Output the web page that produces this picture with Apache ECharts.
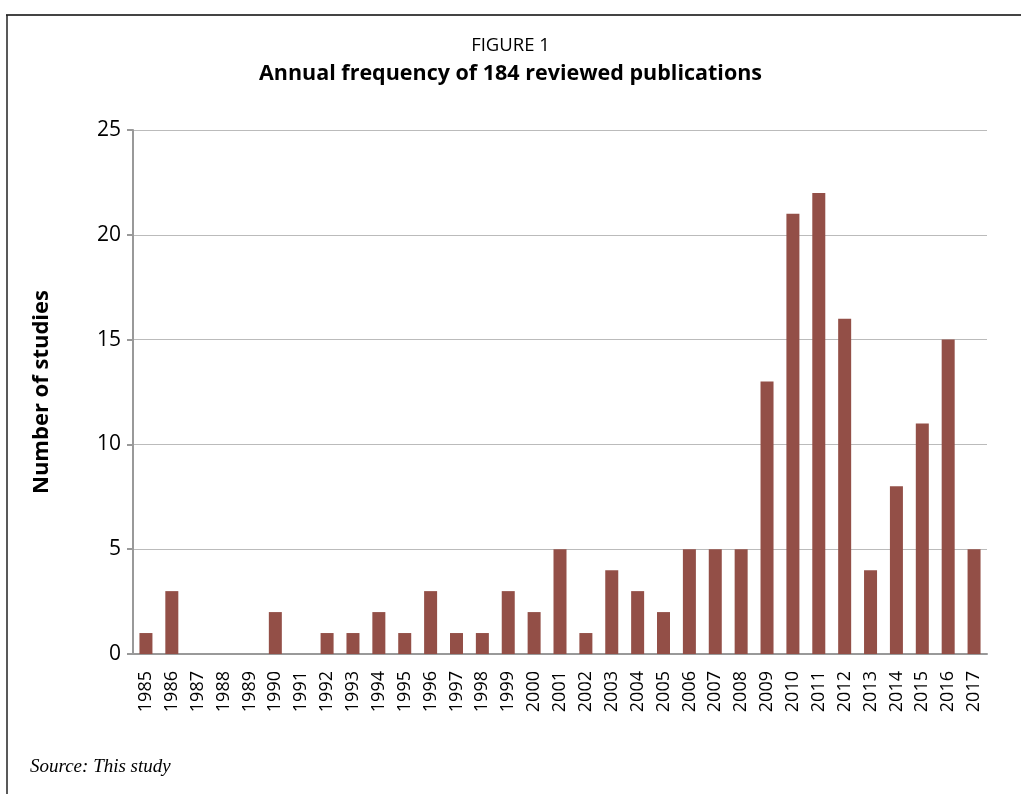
<!DOCTYPE html>
<html><head><meta charset="utf-8">
<script src="https://cdn.jsdelivr.net/npm/echarts@6/dist/echarts.min.js"></script>
<style>html,body{margin:0;padding:0;background:#fff}#c{width:1021px;height:794px}</style>
</head><body><div id="c"></div>
<script>
const years = ['1985','1986','1987','1988','1989','1990','1991','1992','1993','1994','1995','1996','1997','1998','1999','2000','2001','2002','2003','2004','2005','2006','2007','2008','2009','2010','2011','2012','2013','2014','2015','2016','2017'];
const studies = [1,3,0,0,0,2,0,1,1,2,1,3,1,1,3,2,5,1,4,3,2,5,5,5,13,21,22,16,4,8,11,15,5];
const yTicks = {min:0,max:25,interval:5};
const chart = echarts.init(document.getElementById('c'));
chart.setOption({
  animation:false,
  graphic:[
    {type:'line',shape:{x1:6,y1:15,x2:1021,y2:15},style:{stroke:'#444',lineWidth:2}},
    {type:'line',shape:{x1:7,y1:15,x2:7,y2:794},style:{stroke:'#222',lineWidth:1.5}},
    {type:'text',left:'center',top:36,style:{text:'FIGURE 1',font:'18.5px "Open Sans", sans-serif',fill:'#000'}},
    {type:'text',left:'center',top:63,style:{text:'Annual frequency of 184 reviewed publications',font:'bold 21.5px "Open Sans", sans-serif',fill:'#000'}},
    {type:'text',left:30,top:757,style:{text:'Source: This study',font:'italic 19px "Liberation Serif", serif',fill:'#000'}}
  ],
  grid:{left:133,right:34,top:130,bottom:140},
  xAxis:{type:'category',data:years,
    axisLine:{lineStyle:{color:'#999',width:2}},
    axisTick:{alignWithLabel:true,length:8,lineStyle:{color:'#999',width:2}},
    axisLabel:{rotate:90,color:'#000',fontSize:18,fontFamily:'"Open Sans", sans-serif',margin:17,interval:0}},
  yAxis:{type:'value',min:yTicks.min,max:yTicks.max,interval:yTicks.interval,
    name:'Number of studies',nameLocation:'middle',nameGap:80,
    nameTextStyle:{fontSize:22,fontWeight:'bold',color:'#000',fontFamily:'"Open Sans", sans-serif'},
    axisLine:{show:true,lineStyle:{color:'#999',width:2}},
    axisTick:{show:true,length:6,lineStyle:{color:'#999',width:2}},
    axisLabel:{color:'#000',fontSize:21,fontFamily:'"Open Sans", sans-serif',margin:12},
    splitLine:{lineStyle:{color:'#bbb',width:1}}},
  series:[{type:'bar',data:studies,barWidth:13,itemStyle:{color:'#934F47'}}]
});
</script></body></html>
